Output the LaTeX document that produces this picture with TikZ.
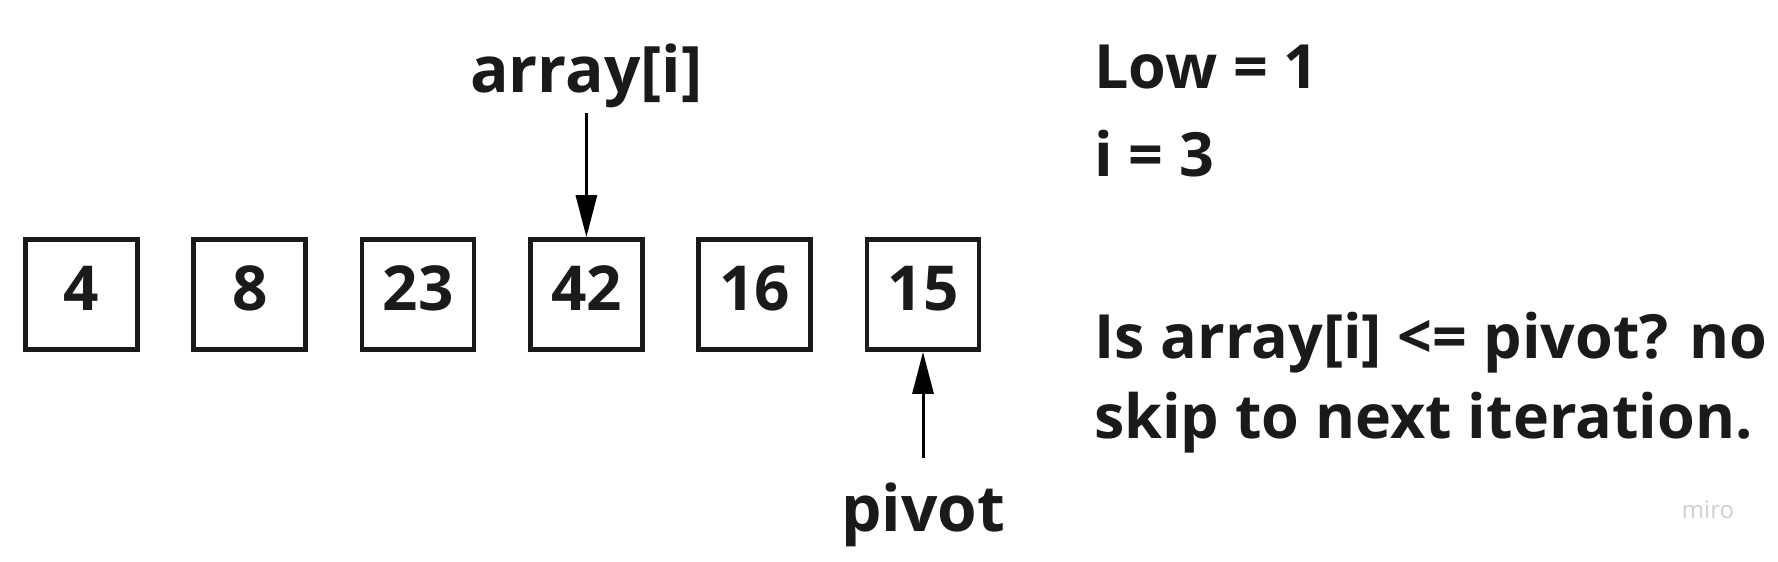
\documentclass[tikz,border=0pt]{standalone}
\usepackage{fontspec}
\setmainfont{Open Sans}
\usepackage{xcolor}
\usetikzlibrary{arrows.meta, positioning}
\definecolor{ink}{RGB}{26,26,26}
\definecolor{logo}{RGB}{205,205,214}

\begin{document}
\begin{tikzpicture}[
		x=1pt, y=-1pt,
		cell/.style={
				draw=ink, line width=4.7pt,
				minimum width=112pt, minimum height=110pt, inner sep=0pt,
				text height=44pt, text depth=12pt,
				font=\fontsize{62}{70}\selectfont\bfseries, text=ink
			},
		lbl/.style={font=\fontsize{64}{72}\selectfont\bfseries, text=ink, inner sep=0pt},
		note/.style={font=\fontsize{61}{70}\selectfont\bfseries, text=ink, inner sep=0pt, anchor=base west},
		ptr/.style={line width=3pt, draw=black, -{Triangle[length=42pt, width=21pt]}},
		node distance=51.6pt
	]
	\useasboundingbox (0,0) rectangle (1778,562);

	\node[cell] (b1) at (81.5,294.5) {4};
	\node[cell, right=of b1] (b2) {8};
	\node[cell, right=of b2] (b3) {23};
	\node[cell, right=of b3] (b4) {42};
	\node[cell, right=of b4] (b5) {16};
	\node[cell, right=of b5] (b6) {15};

	\node[lbl, anchor=base] (lblI) at (b4 |- 0,92) {array[i]};
	\node[lbl, anchor=base] (lblPivot) at (b6 |- 0,531) {pivot};

	\coordinate (iTop) at (b4 |- 0,113);
	\coordinate (pivotTop) at (b6 |- 0,458);
	\draw[ptr] (iTop) -- (b4.north);
	\draw[ptr] (pivotTop) -- (b6.south);

	\node[note] (low) at (1094,88) {Low = 1};
	\node[note] (idx) at (1094,176) {i = 3};
	\node[note] (ask) at (1094,358) {Is array[i] <= pivot? no};
	\node[note] (skip) at (1094,438) {skip to next iteration.};

	\node[anchor=base, text=logo, font=\fontsize{24}{28}\selectfont] (miro) at (1708,518) {miro};
\end{tikzpicture}
\end{document}
